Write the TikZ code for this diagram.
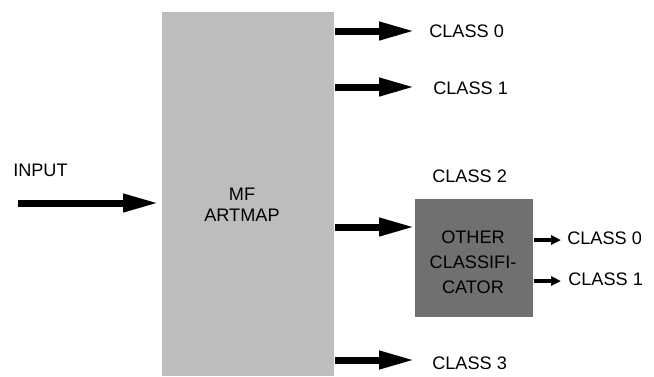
\documentclass[tikz,border=0pt]{standalone}
\usepackage{fontspec}
\setmainfont{Liberation Sans}
\usetikzlibrary{arrows.meta}
\definecolor{boxgray}{HTML}{BDBDBD}
\definecolor{darkbox}{HTML}{707070}
\begin{document}
\begin{tikzpicture}[x=0.75pt,y=-0.75pt,
  lbl/.style={inner sep=0pt,font=\fontsize{13.6}{16}\selectfont,anchor=base west},
  bigarrow/.style={line width=5.25pt,-{Triangle[length=27pt,width=12.75pt]}},
  smallarrow/.style={line width=3pt,-{Triangle[length=7.5pt,width=6.75pt]}}]
\useasboundingbox (0,0) rectangle (654,376);
% boxes
\node[fill=boxgray,inner sep=0pt,minimum width=129pt,minimum height=273pt,anchor=north west] (mf) at (162,12) {};
\node[align=center,font=\fontsize{13.6}{15.5}\selectfont,inner sep=0pt] (mftext) at (242,205) {MF\\ARTMAP};
\node[fill=darkbox,inner sep=0pt,minimum width=88.5pt,minimum height=88.5pt,anchor=north west] (oc) at (415,199) {};
\node[align=center,font=\fontsize{13.6}{18.6}\selectfont,inner sep=0pt] (octext) at (473,262) {OTHER\\CLASSIFI-\\CATOR};
% labels
\node[lbl] (input) at (13,176) {INPUT};
\node[lbl] (c0) at (429,37) {CLASS 0};
\node[lbl] (c1) at (433,94) {CLASS 1};
\node[lbl] (c2) at (432,182) {CLASS 2};
\node[lbl] (c3) at (432,369) {CLASS 3};
\node[lbl] (oc0) at (567,244) {CLASS 0};
\node[lbl] (oc1) at (568,285) {CLASS 1};
% arrow ends
\coordinate (in0) at (18,203);
\coordinate (in1) at (159,203);
\coordinate (t0) at (415,31);
\coordinate (t1) at (415,87);
\coordinate (t2) at (415,227);
\coordinate (t3) at (415,360);
\coordinate (s0) at (561,240);
\coordinate (s1) at (561,281);
% arrows
\draw[bigarrow] (in0) -- (in1);
\draw[bigarrow] (mf.east |- t0) -- (t0);
\draw[bigarrow] (mf.east |- t1) -- (t1);
\draw[bigarrow] (mf.east |- t2) -- (t2);
\draw[bigarrow] (mf.east |- t3) -- (t3);
\draw[smallarrow] (oc.east |- s0) -- (s0);
\draw[smallarrow] (oc.east |- s1) -- (s1);
\end{tikzpicture}
\end{document}
